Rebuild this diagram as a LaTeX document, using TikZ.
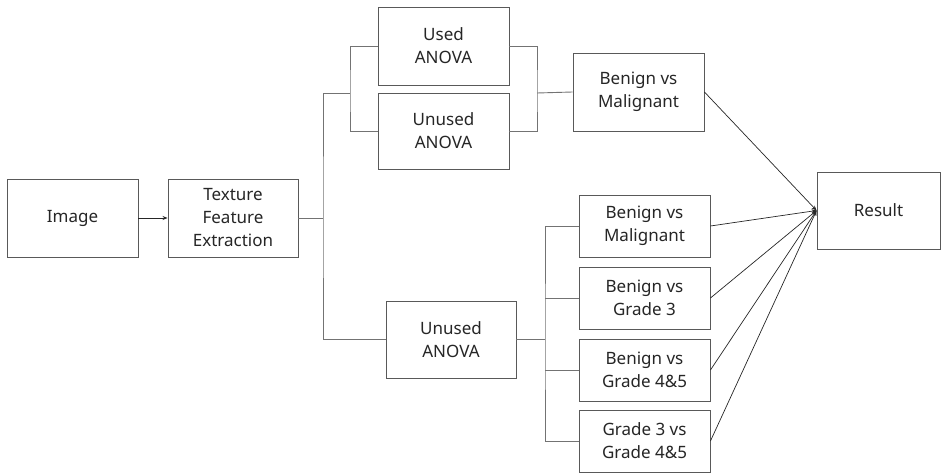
\documentclass[tikz,border=0pt]{standalone}
\usepackage{fontspec}
\setmainfont{Noto Sans}
\usetikzlibrary{arrows.meta}
\begin{document}
\begin{tikzpicture}[x=1pt,y=-1pt,
  box/.style={draw=black!65, line width=0.9pt, fill=white, align=center, inner sep=0pt,
    font=\fontsize{17}{23}\selectfont, text=black!85},
  conn/.style={draw=black!55, line width=0.9pt},
  res/.style={draw=black!85, line width=0.7pt, -{Stealth[length=5pt,width=4pt]}}]
\useasboundingbox (0,0) rectangle (942,473);
\node[box, minimum width=131pt, minimum height=78pt] (img) at (72.5,218) {Image};
\node[box, minimum width=130pt, minimum height=78pt] (tfe) at (233,218) {Texture\\Feature\\Extraction};
\node[box, minimum width=131pt, minimum height=78pt] (used) at (443.5,46) {Used\\ANOVA};
\node[box, minimum width=131pt, minimum height=76pt] (unusedA) at (443.5,131) {Unused\\ANOVA};
\node[box, minimum width=131pt, minimum height=78pt] (bmA) at (638.5,92) {Benign vs\\Malignant};
\node[box, minimum width=130pt, minimum height=77pt] (unusedB) at (451,339.5) {Unused\\ANOVA};
\node[box, minimum width=131pt, minimum height=62pt] (bB) at (644.5,226) {Benign vs\\Malignant};
\node[box, minimum width=131pt, minimum height=62pt] (bC) at (644.5,298) {Benign vs\\Grade 3};
\node[box, minimum width=131pt, minimum height=62pt] (bD) at (644.5,370) {Benign vs\\Grade 4\&5};
\node[box, minimum width=131pt, minimum height=62pt] (bE) at (644.5,441) {Grade 3 vs\\Grade 4\&5};
\node[box, minimum width=123pt, minimum height=77pt] (result) at (878.5,210.5) {Result};
\coordinate (j1) at (323,218);
\coordinate (bl) at (350,93);
\coordinate (br) at (537,93);
\coordinate (j2) at (545,339.5);
\draw[draw=black!85, line width=0.8pt, -{Stealth[length=5pt,width=4pt]}] (img.east) -- (tfe.west);
\draw[conn] (tfe.east) -- (j1);
\draw[conn] (bl) -| (j1) |- (unusedB.west);
\draw[conn] (used.west) -| (bl) |- (unusedA.west);
\draw[conn] (used.east) -| (br) |- (unusedA.east);
\draw[conn] (br) -- (bmA.west);
\draw[conn] (unusedB.east) -- (j2);
\draw[conn] (bB.west) -| (j2) |- (bE.west);
\draw[conn] (j2 |- bC.west) -- (bC.west);
\draw[conn] (j2 |- bD.west) -- (bD.west);
\draw[res] (bmA.east) -- (result.west);
\draw[res] (bB.east) -- (result.west);
\draw[res] (bC.east) -- (result.west);
\draw[res] (bD.east) -- (result.west);
\draw[res] (bE.east) -- (result.west);
\end{tikzpicture}
\end{document}
